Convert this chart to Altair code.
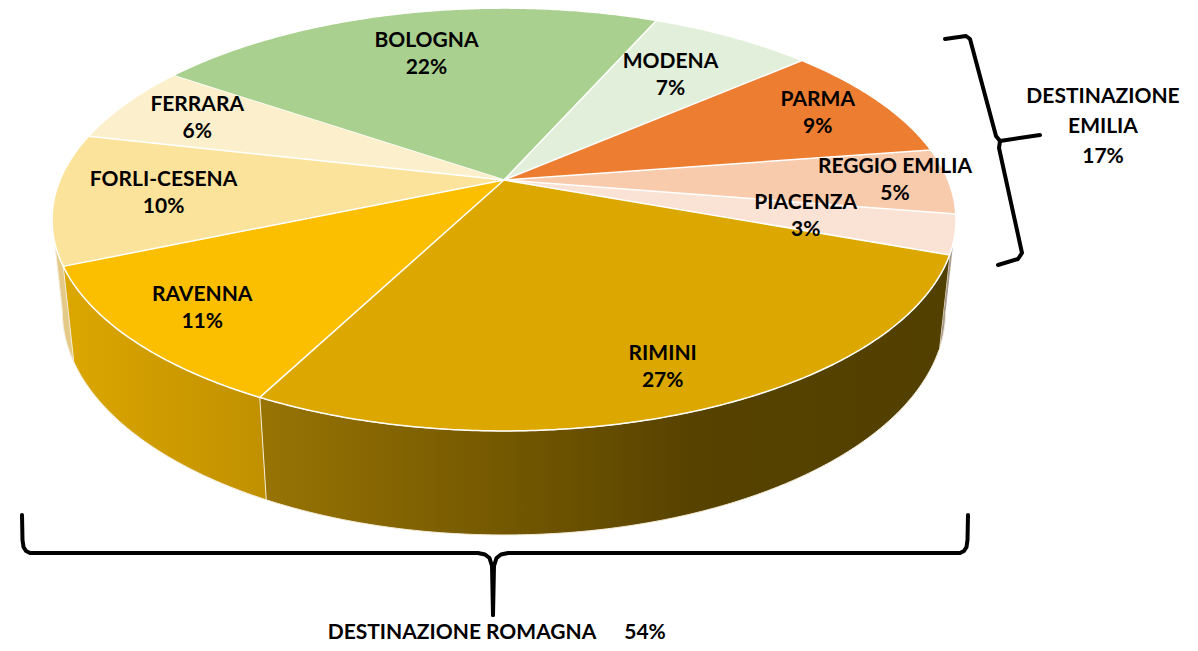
import numpy as np
import pandas as pd
import altair as alt

# ---------------- data ----------------
provinces = ["BOLOGNA", "MODENA", "PARMA", "REGGIO EMILIA", "PIACENZA",
             "RIMINI", "RAVENNA", "FORLI-CESENA", "FERRARA"]
shares = [22, 7, 9, 5, 3, 27, 11, 10, 6]
top_colors = ["#a9d08e", "#e2efda", "#ed7d31", "#f8cbad", "#fae2d4",
              "#dca800", "#fbbf00", "#fbe39c", "#fcf0cc"]
emilia_members = ["PARMA", "REGGIO EMILIA", "PIACENZA"]
romagna_members = ["RIMINI", "RAVENNA", "FORLI-CESENA", "FERRARA"]

# ---------------- layout / style ----------------
START_ANGLE = 145.5          # degrees, first slice edge; slices run clockwise
CX, CY = 504.0, 180.0        # projected centre of the top face (pixels)
F, D = 2109.0, 4.75          # focal length / camera distance
SIN, COS = 0.4595, 0.888     # camera elevation
H = 0.235                    # pie thickness (in radii)
label_radius = [0.72, 0.70, 0.83, 0.88, 0.68, 0.84, 0.83, 0.76, 0.80]
wall_fills = {
    "PIACENZA": "#a89a8d",
    "RIMINI": {"gradient": "linear", "x1": 0, "x2": 1, "y1": 0, "y2": 0,
               "stops": [{"offset": 0, "color": "#987404"},
                         {"offset": 0.43, "color": "#6c5200"},
                         {"offset": 0.63, "color": "#574200"},
                         {"offset": 1, "color": "#524000"}]},
    "RAVENNA": {"gradient": "linear", "x1": 0, "x2": 1, "y1": 0, "y2": 0,
                "stops": [{"offset": 0, "color": "#dca700"},
                          {"offset": 1, "color": "#c09000"}]},
    "FORLI-CESENA": "#e4ca86",
}
FONT = "Lato"
FONT_SIZE = 21
LH_LABEL = 27
LH_NOTE = 30


def project(u, v, z=0.0):
    d = D + v * COS - z * SIN
    x = CX + F * u / d
    y = CY - F * (v * SIN + z * COS) / d
    return x, y


def arc(a_from, a_to, z=0.0, step=0.5):
    n = max(2, int(abs(a_to - a_from) / step) + 1)
    ang = np.radians(np.linspace(a_from, a_to, n))
    return [project(np.cos(a), np.sin(a), z) for a in ang]


# visible front wall range (silhouette of the cylinder)
vis_lo = -180 + np.degrees(np.arcsin(COS / (D + H * SIN)))
vis_hi = -np.degrees(np.arcsin(COS / (D + H * SIN)))

rows = []
labels = []
cum = 0
for name, s, r in zip(provinces, shares, label_radius):
    a1 = START_ANGLE - 3.6 * cum
    a2 = START_ANGLE - 3.6 * (cum + s)
    cum += s
    pts = [project(0, 0)] + arc(a1, a2)
    for i, (x, y) in enumerate(pts):
        rows.append({"key": "top_" + name, "i": i, "x": x, "y": y})
    hi = min(a1, vis_hi)
    lo = max(a2, vis_lo)
    if hi > lo:
        pts = arc(hi, lo) + arc(lo, hi, z=-H)
        for i, (x, y) in enumerate(pts):
            rows.append({"key": "wall_" + name, "i": i, "x": x, "y": y})
    am = np.radians((a1 + a2) / 2)
    lx, ly = project(r * np.cos(am), r * np.sin(am))
    labels.append({"x": lx, "y": ly, "t": f"{name}\n{s}%"})

share_of = dict(zip(provinces, shares))
emilia_total = sum(share_of[p] for p in emilia_members)
romagna_total = sum(share_of[p] for p in romagna_members)


def brace_rows(key, pts):
    return [{"key": key, "i": i, "x": x, "y": y} for i, (x, y) in enumerate(pts)]


# curly braces (annotation shapes)
brace = []
brace += brace_rows("b1", [(22, 515), (22.5, 540), (23.5, 547), (26, 551), (30, 553),
                           (478, 553), (485, 554.5), (489.5, 558), (492, 566), (493, 615)])
brace += brace_rows("b2", [(968, 515), (967.5, 540), (966.5, 547), (964, 551), (960, 553),
                           (508, 553), (501, 554.5), (496.5, 558), (494, 566), (493, 615)])
brace += brace_rows("b3", [(945, 39), (966, 36), (970, 39), (996, 136), (1000, 141),
                           (1040, 135)])
brace += brace_rows("b4", [(998, 265), (1018, 259), (1022, 253), (999, 148), (1000, 141)])

geo = pd.DataFrame(rows + brace)
lab = pd.DataFrame(labels)
notes_multi = pd.DataFrame([
    {"x": 1103, "y": 127, "t": f"DESTINAZIONE\nEMILIA\n{emilia_total}%"},
])
notes_single = pd.DataFrame([
    {"x": 462, "y": 633, "t": "DESTINAZIONE ROMAGNA"},
    {"x": 645, "y": 633, "t": f"{romagna_total}%"},
])

X = alt.X("x:Q", scale=alt.Scale(domain=[8, 1190], nice=False, zero=False), axis=None)
Y = alt.Y("y:Q", scale=alt.Scale(domain=[8, 643], nice=False, zero=False, reverse=True), axis=None)

base = alt.Chart(geo).encode(x=X, y=Y, order=alt.Order("i:Q"))

layers = []
for name in ["PIACENZA", "FORLI-CESENA", "RAVENNA", "RIMINI"]:
    layers.append(base.transform_filter(alt.datum.key == "wall_" + name)
                  .mark_line(fill=wall_fills[name], stroke="#f4ecd8", strokeWidth=1,
                             strokeJoin="round"))
for name, col in zip(provinces, top_colors):
    layers.append(base.transform_filter(alt.datum.key == "top_" + name)
                  .mark_line(fill=col, stroke="#ffffff", strokeWidth=1.5,
                             strokeJoin="round"))
for k in ["b1", "b2", "b3", "b4"]:
    layers.append(base.transform_filter(alt.datum.key == k)
                  .mark_line(color="black", strokeWidth=4, strokeJoin="round",
                             strokeCap="round"))

text_style = dict(align="center", baseline="middle", lineBreak="\n", font=FONT,
                  fontWeight="bold", fontSize=FONT_SIZE, color="#000000")
layers.append(alt.Chart(lab).mark_text(lineHeight=LH_LABEL, dy=-LH_LABEL / 2, **text_style)
              .encode(x=X, y=Y, text="t:N"))
layers.append(alt.Chart(notes_multi).mark_text(lineHeight=LH_NOTE, dy=-LH_NOTE, **text_style)
              .encode(x=X, y=Y, text="t:N"))
layers.append(alt.Chart(notes_single).mark_text(**text_style)
              .encode(x=X, y=Y, text="t:N"))

chart = alt.layer(*layers).properties(
    width=1182, height=635, padding=0,
    autosize=alt.AutoSizeParams(type="none"),
).configure_view(stroke=None)

chart.save("out.html", embed_options={"renderer": "svg", "actions": False})
